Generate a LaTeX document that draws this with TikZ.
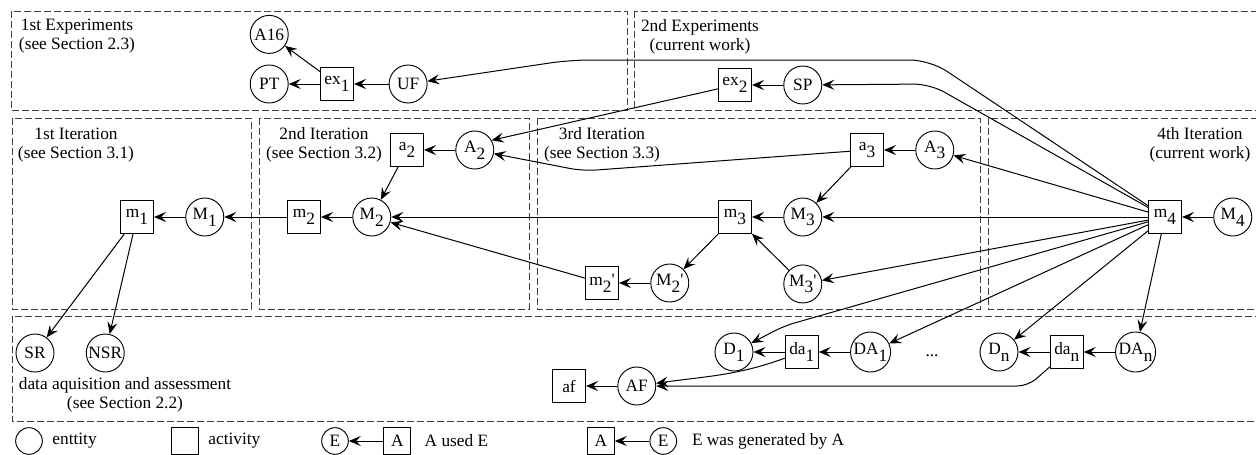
\documentclass[tikz,border=0pt]{standalone}
\usepackage{fontspec}
\setmainfont{Liberation Serif}
\usepackage{tikz}
\usetikzlibrary{positioning,arrows.meta}

\newcommand{\subix}[1]{\raisebox{-5pt}{#1}}

\begin{document}
\begin{tikzpicture}[
    x=0.75pt, y=-0.75pt,
    node distance=23.5pt,
    ent/.style={
        draw,
        circle,
        line width=0.7pt,
        minimum size=28.5pt,
        inner sep=0.5pt,
        font=\fontsize{13}{14.5}\selectfont
    },
    act/.style={
        draw,
        rectangle,
        line width=0.7pt,
        minimum size=24.75pt,
        inner sep=1pt,
        font=\fontsize{13}{14.5}\selectfont
    },
    legent/.style={ent, minimum size=20pt},
    legact/.style={act, minimum size=20pt},
    lbl/.style={inner sep=2pt, align=center, font=\fontsize{13}{14.5}\selectfont},
    region/.style={draw=black!75, line width=0.7pt, dash pattern=on 5pt off 2.5pt},
    rel/.style={-{Stealth[length=9pt, width=7.5pt, inset=3.5pt]}, line width=0.75pt}
]
\useasboundingbox (0,0) rectangle (1256,454);

% regions
\draw[region] (11,11) rectangle (627,110);
\draw[region] (634,11) rectangle (1262,110);
\draw[region] (12,118) rectangle (251,309);
\draw[region] (259,118) rectangle (529,309);
\draw[region] (537,118) rectangle (980,309);
\draw[region] (988,118) rectangle (1262,309);
\draw[region] (12,316) rectangle (1262,421);

\node[lbl] (lexp1) at (77,36) {1st Experiments\\(see Section 2.3)};
\node[lbl] (lexp2) at (700,37) {2nd Experiments\\(current work)};
\node[lbl] (lit1) at (76,145) {1st Iteration\\(see Section 3.1)};
\node[lbl] (lit2) at (324,145) {2nd Iteration\\(see Section 3.2)};
\node[lbl] (lit3) at (602,145) {3rd Iteration\\(see Section 3.3)};
\node[lbl] (lit4) at (1200,145) {4th Iteration\\(current work)};
\node[lbl] (ldata) at (125,395) {data aquisition and assessment\\(see Section 2.2)};

% experiments
\node[act] (ex1) at (337,84) {ex\subix{1}};
\node[ent, left=of ex1] (PT) {PT};
\node[ent, above=8pt of PT] (A16) {A16};
\node[ent, right=26pt of ex1] (UF) {UF};
\node[act] (ex2) at (735,85) {ex\subix{2}};
\node[ent, right=of ex2] (SP) {SP};

% iterations
\node[act] (m1) at (137,217) {m\subix{1}};
\node[ent, right=of m1] (M1) {M\subix{1}};
\node[act] (m2) at (304,217) {m\subix{2}};
\node[ent, right=of m2] (M2) {M\subix{2}};
\node[act] (a2) at (407,150) {a\subix{2}};
\node[ent, right=of a2] (A2) {A\subix{2}};
\node[act] (m3) at (735,217) {m\subix{3}};
\node[ent, right=of m3] (M3) {M\subix{3}};
\node[ent, below=21pt of M3] (M3p) {M\subix{3}\textquotesingle};
\node[act] (a3) at (867,150) {a\subix{3}};
\node[ent, right=of a3] (A3) {A\subix{3}};
\node[act] (m2p) at (602,283) {m\subix{2}\textquotesingle};
\node[ent, right=of m2p] (M2p) {M\subix{2}\textquotesingle};
\node[act] (m4) at (1165,217) {m\subix{4}};
\node[ent, right=of m4] (M4) {M\subix{4}};

% data aquisition
\node[ent] (SR) at (35,353) {SR};
\node[ent, right=of SR] (NSR) {NSR};
\node[act] (af) at (569,386) {af};
\node[ent, right=of af] (AF) {AF};
\node[ent] (D1) at (734,352) {D\subix{1}};
\node[act, right=of D1] (da1) {da\subix{1}};
\node[ent, right=of da1] (DA1) {DA\subix{1}};
\node[lbl] (dots) at (932,356) {...};
\node[ent] (Dn) at (999,352) {D\subix{n}};
\node[act, right=of Dn] (dan) {da\subix{n}};
\node[ent, right=of dan] (DAn) {DA\subix{n}};

% legend
\node[legent] (kent) at (29,441) {};
\node[lbl, right=5pt of kent] (kenttxt) {enttity};
\node[legact] (kact) at (185,441) {};
\node[lbl, right=5pt of kact] (kacttxt) {activity};
\node[legent] (kE) at (335,441) {E};
\node[legact, right=26pt of kE] (kA) {A};
\node[lbl, right=8pt of kA] (kusedtxt) {A used E};
\node[legact] (kA2) at (601,441) {A};
\node[legent, right=26pt of kA2] (kE2) {E};
\node[lbl, right=9pt of kE2] (kgentxt) {E was generated by A};

% relations
\draw[rel] (ex1) -- (A16);
\draw[rel] (ex1) -- (PT);
\draw[rel] (UF) -- (ex1);
\draw[rel] (SP) -- (ex2);
\draw[rel, rounded corners=15pt] (m4) -- (930,60) -- (570,60) -- (UF);
\draw[rel, rounded corners=12pt] (m4) -- (930,84) -- (SP);
\draw[rel] (ex2) -- (A2.30);
\draw[rel, rounded corners=10pt] (a3) -- (583,171) -- (A2);

\draw[rel] (A2) -- (a2);
\draw[rel] (a2) -- (M2);
\draw[rel] (M1) -- (m1);
\draw[rel] (m2) -- (M1);
\draw[rel] (M2) -- (m2);
\draw[rel] (m1) -- (SR);
\draw[rel] (m1) -- (NSR);

\draw[rel] (A3) -- (a3);
\draw[rel] (a3) -- (M3);
\draw[rel] (M3) -- (m3);
\draw[rel] (m3) -- (M2);
\draw[rel] (m3) -- (M2p);
\draw[rel] (M3p) -- (m3);
\draw[rel] (M2p) -- (m2p);
\draw[rel] (m2p) -- (M2);

\draw[rel] (M4) -- (m4);
\draw[rel] (m4) -- (A3);
\draw[rel] (m4) -- (M3);
\draw[rel] (m4) -- (M3p);
\draw[rel, rounded corners=8pt] (m4) -- (784,326) -- (D1);
\draw[rel] (m4) -- (DA1);
\draw[rel] (m4) -- (Dn);
\draw[rel] (m4) -- (DAn);

\draw[rel] (da1) -- (D1);
\draw[rel] (DA1) -- (da1);
\draw[rel] (dan) -- (Dn);
\draw[rel] (DAn) -- (dan);
\draw[rel] (da1.200) to[out=200, in=8] (AF);
\draw[rel, rounded corners=8pt] (dan) -- (1028,386) -- (AF);
\draw[rel] (AF) -- (af);

\draw[rel] (kA) -- (kE);
\draw[rel] (kE2) -- (kA2);

\end{tikzpicture}
\end{document}
